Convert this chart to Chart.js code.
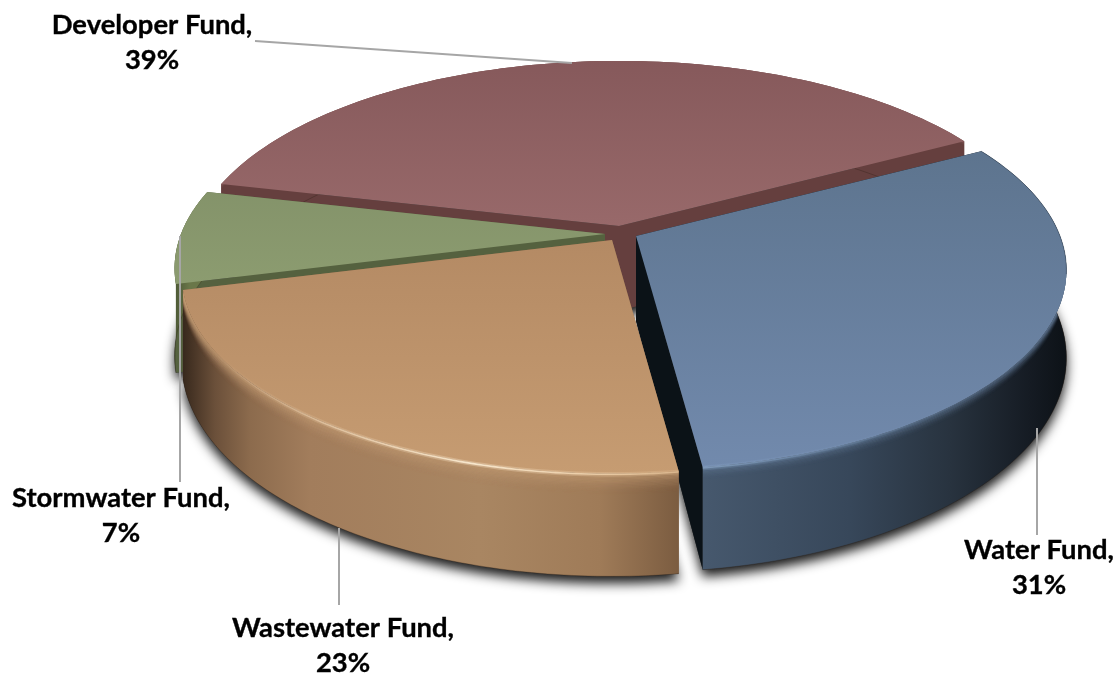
<!DOCTYPE html>
<html>
<head>
<meta charset="utf-8">
<title>Fund shares</title>
<script src="https://cdn.jsdelivr.net/npm/chart.js@4"></script>
<style>
html,body{margin:0;padding:0;background:#fff}
canvas{display:block}
</style>
</head>
<body>
<canvas id="pie" width="1119" height="675"></canvas>
<script>
// Fund shares, in percent
const categories = ['Water Fund', 'Wastewater Fund', 'Stormwater Fund', 'Developer Fund'];
const shares = [31, 23, 7, 39];

// Projection of the flat pie on to a tilted, perspective disc
const radius = 424, flatten = 193.5, depth = 85, perspective = 0.172;
// Foreshortening of angles towards the far left and far right of the disc
const lensBumps = [
  { at: 190.5, by: 2.5, width: 18 },
  { at: 330.9, by: 0.8, width: 18 }
];
// Exploded apex of each wedge
const apexes = [[636, 236], [612, 240], [605, 234], [619, 226]];
// Back wedges are painted first
const paintOrder = [3, 2, 0, 1];

const topColors = [
  ['#5d748e', '#728aad'],
  ['#b48a64', '#c69c72'],
  ['#84936a', '#8c9c70'],
  ['#86595b', '#98696a']
];
const topSpans = [[150, 470], [240, 475], [190, 285], [60, 226]];
const sideColors = ['#0b1217', '#7f6044', '#55613f', '#653f3e'];
const wallStops = [
  [[705, '#46586d'], [850, '#37475a'], [950, '#28333f'], [1030, '#151b23'], [1066, '#0d1217']],
  [[180, '#33251a'], [215, '#6b503a'], [250, '#8c6b4d'], [310, '#a27d5c'], [480, '#a98662'], [600, '#9f7b58'], [677, '#7c5d41']],
  [[175, '#4d5936'], [190, '#6a7749']],
  [[200, '#653f3e'], [960, '#653f3e']]
];
const bevels = [
  { color: '#6a83a3', px: 11, strength: 0.5 },
  { color: '#c29a72', px: 18, strength: 0.7 },
  { color: '#5f6c45', px: 6, strength: 0.4 },
  { color: '#98696a', px: 6, strength: 0.4 }
];
const glints = [
  [[705, 'rgba(150,180,215,.5)'], [850, 'rgba(130,160,195,.25)'], [960, 'rgba(110,140,170,0)']],
  [[215, 'rgba(255,225,190,0)'], [330, 'rgba(255,232,200,.45)'], [470, 'rgba(255,240,215,.85)'], [677, 'rgba(255,220,175,.45)']],
  null, null
];

const labelStyle = { font: 'bold 27.4px Lato', color: '#000', lineGap: 35 };
const labelLayout = [
  { x: 1039, y: 550, line: [[1037, 428], [1037, 535]] },
  { x: 343, y: 628, line: [[339, 528], [339, 605]] },
  { x: 121, y: 498, line: [[180, 236], [180, 482]] },
  { x: 152, y: 25, line: [[255, 41], [572, 63]] }
];

function lens(angle) {
  let deg = ((angle * 180 / Math.PI) % 360 + 360) % 360, shift = 0;
  lensBumps.forEach(b => { shift += b.by * Math.exp(-Math.pow((deg - b.at) / b.width, 2)); });
  return angle + shift * Math.PI / 180;
}

// Point on wedge i at a disc angle and a drop z (0 top face, 1 bottom face)
function project(i, angle, z) {
  const a = lens(angle);
  return projectXY(i, Math.cos(a), Math.sin(a), z);
}
function projectXY(i, X, Y, z) {
  const s = 1 / (1 - perspective * Y);
  return [apexes[i][0] + radius * X * s, apexes[i][1] + (flatten * Y + depth * z) * s];
}
function arcPoints(i, a0, a1, z) {
  const pts = [], n = 90;
  for (let k = 0; k <= n; k++) pts.push(project(i, a0 + (a1 - a0) * k / n, z));
  return pts;
}
function tracePath(ctx, pts) {
  ctx.beginPath();
  pts.forEach((p, k) => k ? ctx.lineTo(p[0], p[1]) : ctx.moveTo(p[0], p[1]));
  ctx.closePath();
}
function horizontalGradient(ctx, stops) {
  const x0 = stops[0][0], x1 = stops[stops.length - 1][0];
  const g = ctx.createLinearGradient(x0, 0, x1, 0);
  stops.forEach(s => g.addColorStop((s[0] - x0) / (x1 - x0), s[1]));
  return g;
}
function strokeLine(ctx, pts, style, width) {
  ctx.beginPath();
  pts.forEach((p, k) => k ? ctx.lineTo(p[0], p[1]) : ctx.moveTo(p[0], p[1]));
  ctx.strokeStyle = style;
  ctx.lineWidth = width;
  ctx.stroke();
}

function drawWedge(ctx, i, a0, a1) {
  const apexTop = projectXY(i, 0, 0, 0), apexBase = projectXY(i, 0, 0, 1);
  const topArc = arcPoints(i, a0, a1, 0), baseArc = arcPoints(i, a0, a1, 1);

  // Cut faces of the wedge
  [0, topArc.length - 1].forEach(e => {
    tracePath(ctx, [apexTop, topArc[e], baseArc[e], apexBase]);
    ctx.fillStyle = sideColors[i];
    ctx.fill();
  });

  // Curved outer wall with a soft bevel under the rim
  const wall = topArc.concat(baseArc.slice().reverse());
  tracePath(ctx, wall);
  ctx.fillStyle = horizontalGradient(ctx, wallStops[i]);
  ctx.fill();
  ctx.save();
  ctx.clip();
  const bevel = bevels[i];
  for (let j = bevel.px; j >= 0; j--) {
    ctx.globalAlpha = Math.pow(1 - j / bevel.px, 2) * bevel.strength;
    strokeLine(ctx, arcPoints(i, a0, a1, j / depth), bevel.color, 1.6);
  }
  ctx.globalAlpha = 1;
  ctx.restore();
  strokeLine(ctx, baseArc, 'rgba(40,25,15,.3)', 1);

  // Top face
  tracePath(ctx, [apexTop].concat(topArc));
  const g = ctx.createLinearGradient(0, topSpans[i][0], 0, topSpans[i][1]);
  g.addColorStop(0, topColors[i][0]);
  g.addColorStop(1, topColors[i][1]);
  ctx.fillStyle = g;
  ctx.fill();

  // Light catching the front edge of the rim
  if (glints[i]) {
    const glint = horizontalGradient(ctx, glints[i]);
    ctx.globalAlpha = 0.35;
    strokeLine(ctx, arcPoints(i, a0, a1, 0.006), glint, 4.5);
    ctx.globalAlpha = 1;
    strokeLine(ctx, arcPoints(i, a0, a1, 0.006), glint, 1.6);
  }
  // Thin dark edge where the blue wedge turns away from the viewer
  if (i === 0) strokeLine(ctx, arcPoints(i, a0, a0 + 0.7, 0), 'rgba(30,42,55,.4)', 1);
}

const pie3d = {
  id: 'pie3d',
  beforeDatasetsDraw(chart) {
    const ctx = chart.ctx, arcs = chart.getDatasetMeta(0).data;

    // Soft shadow cast by the base of each wedge
    ctx.save();
    ctx.shadowColor = 'rgba(0,0,0,.9)';
    ctx.shadowBlur = 12;
    ctx.shadowOffsetY = 7;
    ctx.fillStyle = '#333';
    paintOrder.forEach(i => {
      tracePath(ctx, [projectXY(i, 0, 0, 1)].concat(arcPoints(i, arcs[i].startAngle, arcs[i].endAngle, 1)));
      ctx.fill();
    });
    ctx.restore();

    paintOrder.forEach(i => drawWedge(ctx, i, arcs[i].startAngle, arcs[i].endAngle));
    return false;
  },
  afterDraw(chart) {
    const ctx = chart.ctx;
    ctx.save();
    labelLayout.forEach(l => strokeLine(ctx, l.line, '#a6a6a6', 2));
    ctx.font = labelStyle.font;
    ctx.fillStyle = labelStyle.color;
    ctx.strokeStyle = labelStyle.color;
    ctx.lineWidth = 0.35;
    ctx.textAlign = 'center';
    ctx.textBaseline = 'middle';
    categories.forEach((c, i) => {
      [[c + ',', 0], [shares[i] + '%', labelStyle.lineGap]].forEach(([text, dy]) => {
        ctx.fillText(text, labelLayout[i].x, labelLayout[i].y + dy);
        ctx.strokeText(text, labelLayout[i].x, labelLayout[i].y + dy);
      });
    });
    ctx.restore();
  }
};

new Chart(document.getElementById('pie'), {
  type: 'pie',
  data: { labels: categories, datasets: [{ data: shares, borderWidth: 0 }] },
  options: {
    responsive: false,
    animation: false,
    rotation: 60.9,
    plugins: { legend: { display: false }, tooltip: { enabled: false } }
  },
  plugins: [pie3d]
});
</script>
</body>
</html>
